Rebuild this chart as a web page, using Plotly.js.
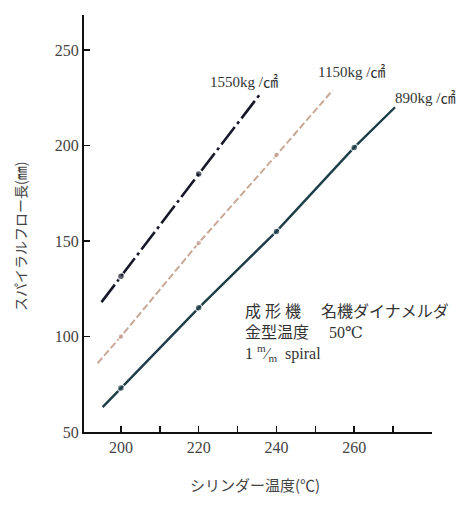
<!DOCTYPE html>
<html>
<head>
<meta charset="utf-8">
<script src="https://cdn.plot.ly/plotly-3.0.1.min.js"></script>
<style>
  html, body { margin: 0; padding: 0; background: #ffffff; }
  #chart { width: 463px; height: 506px; }
</style>
</head>
<body>
<div id="chart"></div>
<script>
// Series (x = cylinder temperature °C, y = spiral flow length mm)
const x1550 = [195, 200, 220, 236];
const y1550 = [118, 131.5, 185, 227.5];
const x1150 = [194, 200, 220, 240, 254.5];
const y1150 = [86, 100, 149, 195, 229];
const x890 = [195.3, 200, 220, 240, 260, 270.5];
const y890 = [63, 73, 115, 155, 199, 220];

const seriesNames = ['1550kg /㎠', '1150kg /㎠', '890kg /㎠'];
const xTickVals = [200, 220, 240, 260];
const xMinorTickVals = [210, 230, 250, 270];
const yTickVals = [50, 100, 150, 200, 250];

const serif = 'Liberation Serif, DejaVu Serif, Noto Sans CJK JP, serif';
const cjk = 'Noto Sans CJK JP, Liberation Serif, serif';

function sizes(arr, s) {
  return arr.map((_, i) => (i === 0 || i === arr.length - 1) ? 0 : s);
}

const traces = [
  {
    x: x1550, y: y1550, name: seriesNames[0], mode: 'lines+markers',
    line: { color: '#16182a', width: 2.6, dash: '22px,4px,3px,4px' },
    marker: { color: '#16182a', size: sizes(x1550, 7), line: { color: '#ffffff', width: 1.5 } }
  },
  {
    x: x1150, y: y1150, name: seriesNames[1], mode: 'lines+markers',
    line: { color: '#c9a896', width: 2, dash: '7px,3px' },
    marker: { color: '#c39a8e', size: sizes(x1150, 6), line: { color: '#ffffff', width: 1.5 } }
  },
  {
    x: x890, y: y890, name: seriesNames[2], mode: 'lines+markers',
    line: { color: '#1c3e48', width: 2.4 },
    marker: { color: '#1c3e48', size: sizes(x890, 7), line: { color: '#ffffff', width: 1.5 } }
  }
];

const px = v => (v - 84) / 348;     // paper x from pixel
const py = v => (432 - v) / 417;    // paper y from pixel

const noteText =
  '成 形 機　 名機ダイナメルダ<br>' +
  '金型温度　 50℃<br>' +
  '1 <sup>m</sup>⁄<sub>m</sub>  spiral';

const layout = {
  width: 463, height: 506,
  margin: { l: 84, r: 31, t: 15, b: 74 },
  paper_bgcolor: '#ffffff', plot_bgcolor: '#ffffff',
  showlegend: false,
  font: { family: serif, color: '#333333', size: 13 },
  xaxis: {
    range: [190.5, 280], showgrid: false, zeroline: false,
    showline: true, linecolor: '#111111', linewidth: 2,
    tickmode: 'array', tickvals: xTickVals,
    ticks: 'inside', ticklen: 6, tickwidth: 1.5, tickcolor: '#111111',
    minor: { tickmode: 'array', tickvals: xMinorTickVals, ticks: 'inside', ticklen: 6, tickwidth: 1.5, tickcolor: '#111111', showgrid: false },
    tickfont: { family: serif, size: 16, color: '#444444' }
  },
  yaxis: {
    range: [50, 268.3], showgrid: false, zeroline: false,
    showline: true, linecolor: '#111111', linewidth: 2,
    tickmode: 'array', tickvals: yTickVals,
    ticks: 'inside', ticklen: 6, tickwidth: 1.5, tickcolor: '#111111',
    tickfont: { family: serif, size: 16, color: '#444444' }
  },
  annotations: [
    { xref: 'paper', yref: 'paper', x: px(244), y: py(81.7), xanchor: 'center', yanchor: 'middle',
      text: seriesNames[0], showarrow: false, font: { family: serif, size: 15, color: '#333333' } },
    { xref: 'paper', yref: 'paper', x: px(351.5), y: py(71.7), xanchor: 'center', yanchor: 'middle',
      text: seriesNames[1], showarrow: false, font: { family: serif, size: 15, color: '#333333' } },
    { xref: 'paper', yref: 'paper', x: px(425), y: py(98), xanchor: 'center', yanchor: 'middle',
      text: seriesNames[2], showarrow: false, font: { family: serif, size: 15, color: '#333333' } },
    { xref: 'paper', yref: 'paper', x: px(243), y: py(333), xanchor: 'left', yanchor: 'middle', align: 'left',
      text: noteText, showarrow: false,
      font: { family: serif, size: 16, color: '#333333' } },
    { xref: 'paper', yref: 'paper', x: px(255), y: py(484), xanchor: 'center', yanchor: 'middle',
      text: 'シリンダー温度(℃)', showarrow: false,
      font: { family: cjk, size: 15, color: '#444444' } },
    { xref: 'paper', yref: 'paper', x: px(20), y: py(237), xanchor: 'center', yanchor: 'middle',
      text: 'スパイラルフロー長(㎜)', textangle: -90, showarrow: false,
      font: { family: cjk, size: 14, color: '#444444' } }
  ]
};

Plotly.newPlot('chart', traces, layout, { staticPlot: true, displayModeBar: false });
</script>
</body>
</html>
